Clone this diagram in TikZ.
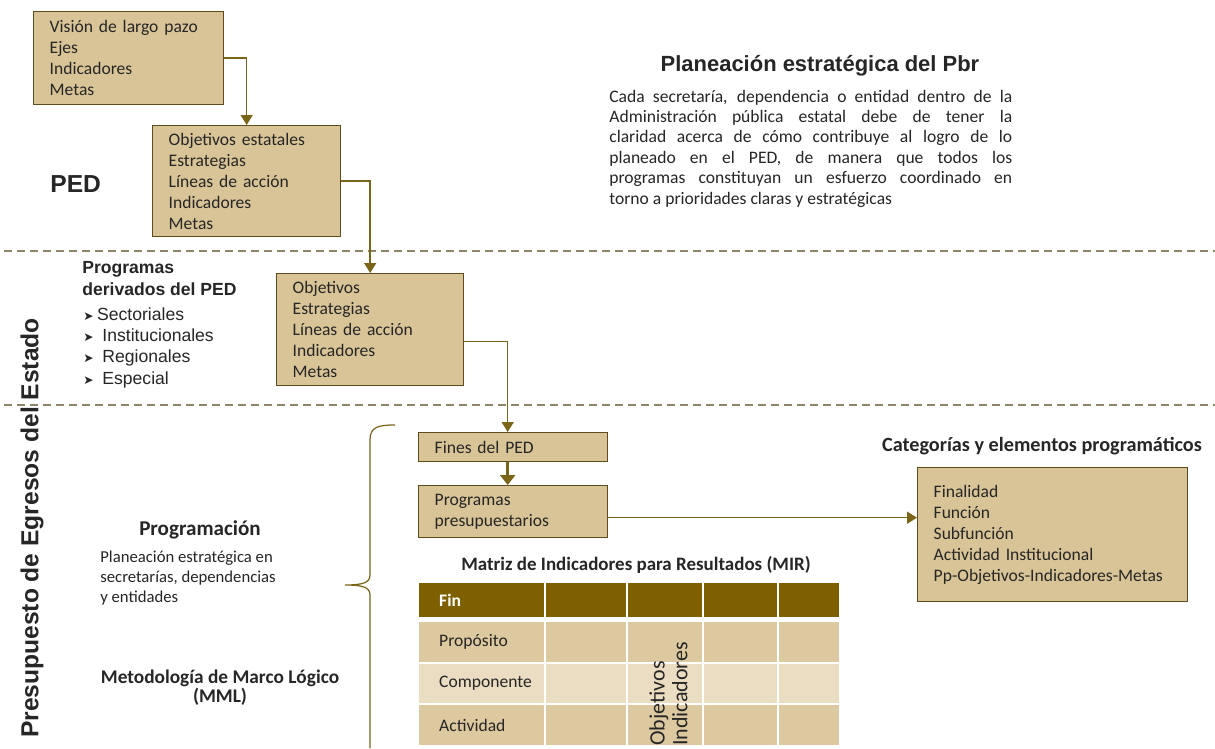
\documentclass[tikz,border=0pt]{standalone}
\usepackage{fontspec}
\setmainfont{Carlito}
\newfontfamily\arialf{Liberation Sans}
\newfontfamily\symf{DejaVu Sans}
\usetikzlibrary{arrows.meta, positioning}

\definecolor{boxfill}{HTML}{D8C497}
\definecolor{boxline}{HTML}{5E4C1E}
\definecolor{connline}{HTML}{7A6518}
\definecolor{mirhead}{HTML}{7F6000}
\definecolor{mirrowa}{HTML}{DDC99F}
\definecolor{mirrowb}{HTML}{EBDDC2}
\definecolor{sepline}{HTML}{8E8468}
\definecolor{txt}{HTML}{262626}

\newcommand{\arrowbul}{{\symf\fontsize{7}{7}\selectfont ➤}}
\newcommand{\jline}[1]{\makebox[8.06cm][s]{#1}}

\begin{document}
\begin{tikzpicture}[x=0.02cm, y=-0.02cm, text=txt,
  pbox/.style={draw=boxline, fill=boxfill, line width=0.8pt, anchor=north west,
    align=left, inner xsep=0.32cm, inner ysep=0.05cm, font=\fontsize{10}{11.9}\selectfont},
  conn/.style={draw=connline, line width=0.8pt, -{Triangle[width=0.24cm,length=0.2cm]}},
  sep/.style={draw=sepline, line width=0.7pt, dash pattern=on 0.16cm off 0.1cm},
  lbl/.style={inner sep=0, align=left}]
\useasboundingbox (0,0) rectangle (1215,748);
\fill[white] (0,0) rectangle (1215,748);

% separators
\draw[sep] (4,251) -- (1215,251);
\draw[sep] (4,405) -- (1215,405);

% PED boxes
\node[pbox, text width=3.16cm, minimum height=1.86cm] (vision) at (33,11)
  {Visión de largo pazo\\Ejes\\Indicadores\\Metas};
\node[pbox, text width=3.12cm, minimum height=2.22cm] (estatal) at (152,125)
  {Objetivos estatales\\Estrategias\\Líneas de acción\\Indicadores\\Metas};
\node[pbox, text width=3.10cm, minimum height=2.24cm] (derivado) at (276,273)
  {Objetivos\\Estrategias\\Líneas de acción\\Indicadores\\Metas};
\node[pbox, text width=3.14cm, minimum height=0.58cm] (fines) at (418,432) {Fines del PED};
\node[pbox, text width=3.14cm, minimum height=1.04cm] (pprog) at (418,485)
  {Programas\\presupuestarios};
\node[pbox, text width=4.76cm, minimum height=2.68cm] (categ) at (917,467)
  {Finalidad\\Función\\Subfunción\\Actividad Institucional\\Pp-Objetivos-Indicadores-Metas};

\draw[conn] (vision.east) -| (estatal.north);
\draw[conn] (estatal.east) -| (derivado.north);
\draw[conn] ([yshift=-0.24cm]derivado.east) -| ([xshift=-0.11cm]fines.north);
\draw[draw=connline, line width=2pt, -{Triangle[width=0.3cm,length=0.2cm]}]
  ([xshift=-0.11cm]fines.south) -- ([xshift=-0.11cm]pprog.north);
\draw[conn] ([yshift=-0.12cm]pprog.east) -- ([yshift=-0.12cm]pprog.east -| categ.west);

% titles and texts
\node[anchor=base west, inner sep=0, font=\arialf\bfseries\fontsize{14}{14}\selectfont] (ped) at (50,192) {PED};
\node[anchor=base, inner sep=0, font=\arialf\bfseries\fontsize{12.5}{14}\selectfont] (pbrtitle) at (820,71)
  {Planeación estratégica del Pbr};
\node[lbl, anchor=base west, font=\fontsize{10}{11.6}\selectfont] (pbrtext) at (609,204)
  {\jline{Cada secretaría, dependencia o entidad dentro de la}\\
   \jline{Administración pública estatal debe de tener la}\\
   \jline{claridad acerca de cómo contribuye al logro de lo}\\
   \jline{planeado en el PED, de manera que todos los}\\
   \jline{programas constituyan un esfuerzo coordinado en}\\
   torno a prioridades claras y estratégicas};

\node[lbl, anchor=base west, font=\arialf\bfseries\fontsize{10}{12.5}\selectfont] (progder) at (82,295)
  {Programas\\derivados del PED};
\node[lbl, anchor=base west, font=\arialf\fontsize{10}{12.1}\selectfont] (proglist) at (83,384)
  {\arrowbul\hspace{2pt}Sectoriales\\\arrowbul\hspace{5pt}Institucionales\\
   \arrowbul\hspace{5pt}Regionales\\\arrowbul\hspace{5pt}Especial};

\node[rotate=90, font=\arialf\bfseries\fontsize{14}{14}\selectfont] (pee) at (32,528)
  {Presupuesto de Egresos del Estado};

\node[anchor=base, inner sep=0, font=\bfseries\fontsize{12}{14}\selectfont] (progtitle) at (200,535) {Programación};
\node[lbl, anchor=base west, font=\fontsize{9.5}{11.3}\selectfont] (progtext) at (100,602)
  {Planeación estratégica en\\secretarías, dependencias\\y entidades};
\node[anchor=base, inner sep=0, align=center, font=\bfseries\fontsize{11}{10.8}\selectfont] (mml) at (220,702)
  {Metodología de Marco Lógico\\(MML)};

\node[anchor=base, inner sep=0, font=\bfseries\fontsize{11.5}{14}\selectfont] (cattitle) at (1042,451)
  {Categorías y elementos programáticos};
\node[anchor=base, inner sep=0, font=\bfseries\fontsize{10.8}{12}\selectfont] (mirtitle) at (636,570)
  {Matriz de Indicadores para Resultados (MIR)};

% brace
\draw[connline, line width=0.7pt] (395,425) .. controls (378,425) and (370,427) .. (370,440)
  -- (370,575) .. controls (370,583) and (362,585) .. (345,585)
  .. controls (362,585) and (370,587) .. (370,595) -- (370,748);

% MIR table
\foreach \xa/\xb in {418/545, 545/627, 627/703, 703/778, 778/840} {
  \fill[mirhead] (\xa+1,583) rectangle (\xb-1,617);
  \fill[mirrowa] (\xa+1,622) rectangle (\xb-1,662);
  \fill[mirrowb] (\xa+1,664) rectangle (\xb-1,703);
  \fill[mirrowa] (\xa+1,705) rectangle (\xb-1,745);
}
\node[anchor=west, font=\bfseries\fontsize{10}{12}\selectfont, text=white] (fin) at (433,600) {Fin};
\node[anchor=west, font=\fontsize{10}{12}\selectfont] (proposito) at (433,642) {Propósito};
\node[anchor=west, font=\fontsize{10}{12}\selectfont] (componente) at (433,683) {Componente};
\node[anchor=west, font=\fontsize{10}{12}\selectfont] (actividad) at (433,725) {Actividad};
\node[lbl, rotate=90, anchor=north west, font=\fontsize{12.5}{13}\selectfont] (objind) at (649,746)
  {Objetivos\\Indicadores};
\end{tikzpicture}
\end{document}
